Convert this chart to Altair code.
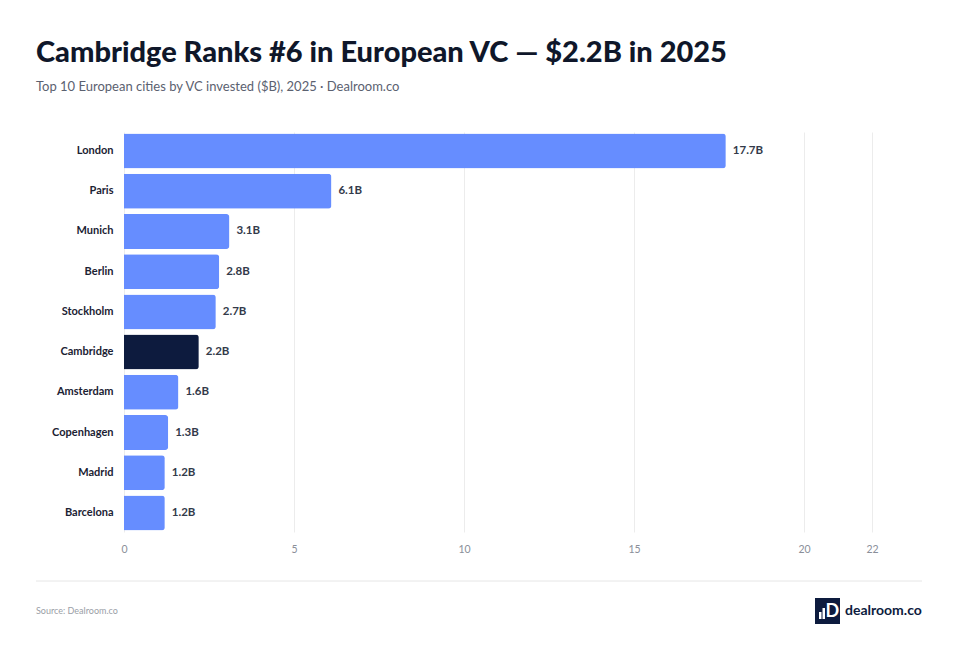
import altair as alt
import pandas as pd

cities = ["London", "Paris", "Munich", "Berlin", "Stockholm", "Cambridge",
          "Amsterdam", "Copenhagen", "Madrid", "Barcelona"]
values = [17.7, 6.1, 3.1, 2.8, 2.7, 2.2, 1.6, 1.3, 1.2, 1.2]
labels = ["17.7B", "6.1B", "3.1B", "2.8B", "2.7B", "2.2B", "1.6B", "1.3B", "1.2B", "1.2B"]
highlight = ["Cambridge"]
x_ticks = [0, 5, 10, 15, 20, 22]

title_text = "Cambridge Ranks #6 in European VC \u2014 $2.2B in 2025"
subtitle_text = "Top 10 European cities by VC invested ($B), 2025 \u00b7 Dealroom.co"
source_text = "Source: Dealroom.co"
brand_text = "dealroom.co"

FONT = "Lato"
BLUE = "#668dff"
NAVY = "#0d1b3e"

df = pd.DataFrame({
    "city": cities,
    "value": values,
    "label": labels,
    "group": ["highlight" if c in highlight else "other" for c in cities],
})

W, H = 748, 400

y_enc = alt.Y("city:N", sort=cities, title=None,
              scale=alt.Scale(paddingInner=0.13, paddingOuter=0.04),
              axis=alt.Axis(domain=False, ticks=False, labelFont=FONT,
                            labelFontWeight="bold", labelFontSize=11,
                            labelColor="#1b2233", labelPadding=11))
x_enc = alt.X("value:Q", title=None,
              scale=alt.Scale(domain=[0, 22], nice=False),
              axis=alt.Axis(values=x_ticks, domain=False, ticks=False,
                            labelFlush=False,
                            labelFont=FONT, labelFontSize=10.5,
                            labelColor="#8a8f99", labelPadding=12,
                            gridColor="#ececec", gridWidth=1))

bars = alt.Chart(df).mark_bar(cornerRadiusEnd=3).encode(
    y=y_enc,
    x=x_enc,
    color=alt.Color("group:N", scale=alt.Scale(domain=["other", "highlight"],
                                               range=[BLUE, NAVY]), legend=None),
)

texts = alt.Chart(df).mark_text(align="left", baseline="middle", dx=7,
                                font=FONT, fontWeight="bold", fontSize=11.5,
                                color="#333a4a").encode(
    y=alt.Y("city:N", sort=cities),
    x="value:Q",
    text="label:N",
)

one = alt.Data(values=[{"k": 1}])

footer_rule = alt.Chart(one).mark_rule(color="#e6e6e6", strokeWidth=1).encode(
    x=alt.value(-88), x2=alt.value(798), y=alt.value(449))

source = alt.Chart(one).mark_text(align="left", baseline="middle", font=FONT,
                                  fontSize=9, color="#9a9ea6").encode(
    x=alt.value(-88), y=alt.value(479), text=alt.value(source_text))

logo_box = alt.Chart(one).mark_rect(color=NAVY).encode(
    x=alt.value(691), x2=alt.value(716), y=alt.value(466), y2=alt.value(492))

logo_bar1 = alt.Chart(one).mark_rect(color="white").encode(
    x=alt.value(695), x2=alt.value(697.5), y=alt.value(480), y2=alt.value(487))
logo_bar2 = alt.Chart(one).mark_rect(color="white").encode(
    x=alt.value(698.5), x2=alt.value(701), y=alt.value(476), y2=alt.value(487))

logo_d = alt.Chart(one).mark_text(align="left", baseline="middle", font=FONT,
                                  fontWeight="bold", fontSize=18, color="white").encode(
    x=alt.value(701.5), y=alt.value(480), text=alt.value("D"))

brand = alt.Chart(one).mark_text(align="left", baseline="middle", font=FONT,
                                 fontWeight="bold", fontSize=14, color=NAVY).encode(
    x=alt.value(721), y=alt.value(479), text=alt.value(brand_text))

chart = alt.layer(bars, texts, footer_rule, source, logo_box, logo_bar1,
                  logo_bar2, logo_d, brand).properties(
    width=W, height=H,
    autosize=alt.AutoSizeParams(type="none"),
    padding={"left": 116, "top": 124, "right": 80, "bottom": 108},
    background="white",
    title=alt.Title(title_text, subtitle=subtitle_text, anchor="start",
                    frame="group", dx=-88, offset=38,
                    font=FONT, fontSize=29, fontWeight=900, color="#0f172a",
                    subtitleFont=FONT, subtitleFontSize=13,
                    subtitleColor="#5b6170", subtitlePadding=13),
).configure_view(stroke=None)

chart.save("out.html", embed_options={"renderer": "svg", "actions": False})
